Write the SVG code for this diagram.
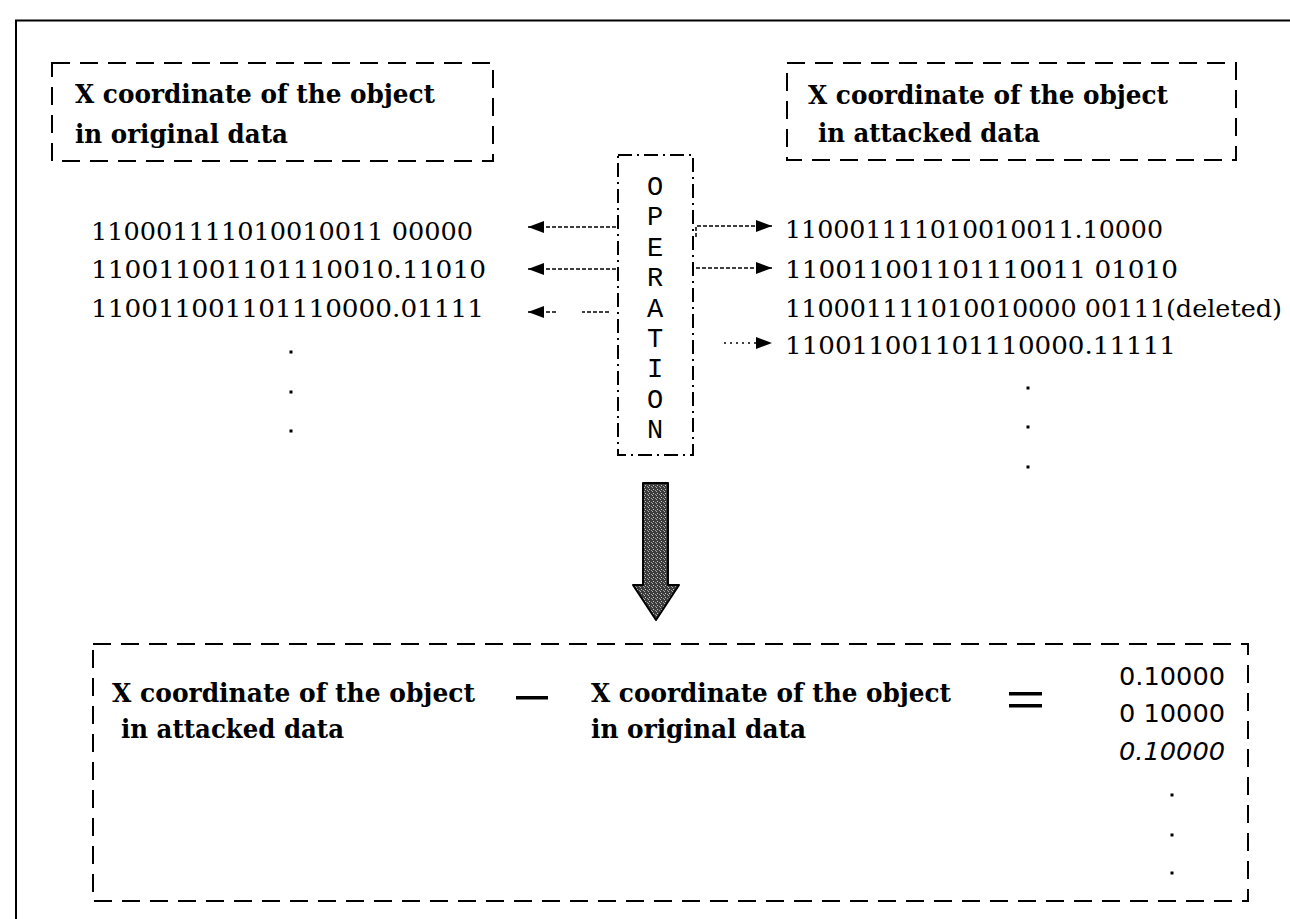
<svg xmlns="http://www.w3.org/2000/svg" width="1290" height="919" viewBox="0 0 1290 919">
<style>
.frame{fill:none;stroke:#000;stroke-width:2}
.dbox{fill:none;stroke:#000;stroke-width:2;stroke-dasharray:18 10}
.opbox{fill:none;stroke:#000;stroke-width:2;stroke-dasharray:14 5 2 5}
.hdr{font-family:"DejaVu Serif","Liberation Serif",serif;font-weight:bold;font-size:26px;fill:#000}
.num{font-family:"DejaVu Serif","Liberation Serif",serif;font-size:25px;fill:#000}
.res{font-family:"DejaVu Sans","Liberation Sans",sans-serif;font-size:25px;fill:#000}
.op{font-family:"Liberation Mono","DejaVu Sans Mono",monospace;font-size:27px;fill:#000;text-anchor:middle}
.conn{fill:none;stroke:#000;stroke-width:1.5;stroke-dasharray:4 2}
.dot{fill:#000}
</style>
<defs>
<marker id="ah" viewBox="0 0 16 12" refX="16" refY="6" markerWidth="16" markerHeight="12" markerUnits="userSpaceOnUse" orient="auto">
<path d="M0,0 L16,6 L0,12 z" fill="#000"/>
</marker>
<pattern id="stip" width="4" height="4" patternUnits="userSpaceOnUse">
<rect width="4" height="4" fill="#3c3c3c"/>
<rect x="1" y="1" width="1" height="1" fill="#c8c8c8"/>
<rect x="3" y="2" width="1" height="1" fill="#9a9a9a"/>
<rect x="0" y="3" width="1" height="1" fill="#b0b0b0"/>
</pattern>
</defs>
<rect width="1290" height="919" fill="#fff"/>
<path class="frame" d="M16,919 V20.5 H1290"/>

<g id="orig-box">
<rect class="dbox" x="52" y="63" width="441" height="98"/>
<text class="hdr" x="75" y="103" textLength="360" lengthAdjust="spacingAndGlyphs">X coordinate of the object</text>
<text class="hdr" x="75" y="143" textLength="213" lengthAdjust="spacingAndGlyphs">in original data</text>
</g>

<g id="attacked-box">
<rect class="dbox" x="787" y="63" width="449" height="97"/>
<text class="hdr" x="808" y="104" textLength="360" lengthAdjust="spacingAndGlyphs">X coordinate of the object</text>
<text class="hdr" x="818" y="142" textLength="222" lengthAdjust="spacingAndGlyphs">in attacked data</text>
</g>

<g id="orig-values">
<text class="num" x="91" y="240" textLength="382" lengthAdjust="spacingAndGlyphs">110001111010010011 00000</text>
<text class="num" x="91" y="278" textLength="395" lengthAdjust="spacingAndGlyphs">110011001101110010.11010</text>
<text class="num" x="91" y="317" textLength="393" lengthAdjust="spacingAndGlyphs">110011001101110000.01111</text>
<rect class="dot" x="289.5" y="350.5" width="3" height="3"/>
<rect class="dot" x="289.5" y="390.5" width="3" height="3"/>
<rect class="dot" x="289.5" y="429.5" width="3" height="3"/>
</g>

<g id="operation">
<rect class="opbox" x="618" y="155" width="75" height="300"/>
<text class="op" x="655" y="195">O</text>
<text class="op" x="655" y="225">P</text>
<text class="op" x="655" y="256">E</text>
<text class="op" x="655" y="286">R</text>
<text class="op" x="655" y="317">A</text>
<text class="op" x="655" y="347">T</text>
<text class="op" x="655" y="377">I</text>
<text class="op" x="655" y="408">O</text>
<text class="op" x="655" y="438">N</text>
</g>

<g id="attacked-values">
<text class="num" x="785" y="238" textLength="378" lengthAdjust="spacingAndGlyphs">110001111010010011.10000</text>
<text class="num" x="785" y="278" textLength="393" lengthAdjust="spacingAndGlyphs">110011001101110011 01010</text>
<text class="num" x="785" y="317" textLength="497" lengthAdjust="spacingAndGlyphs">110001111010010000 00111(deleted)</text>
<text class="num" x="785" y="354" textLength="391" lengthAdjust="spacingAndGlyphs">110011001101110000.11111</text>
<rect class="dot" x="1026.5" y="386.5" width="3" height="3"/>
<rect class="dot" x="1026.5" y="425.5" width="3" height="3"/>
<rect class="dot" x="1026.5" y="465.5" width="3" height="3"/>
</g>

<g id="connectors">
<path class="conn" d="M616,227 H528" marker-end="url(#ah)"/>
<path class="conn" d="M616,269 H528" marker-end="url(#ah)"/>
<path class="conn" d="M609,312 H582"/>
<path class="conn" d="M556,312 H528" marker-end="url(#ah)"/>
<path class="conn" d="M696,237 V226 H772" marker-end="url(#ah)"/>
<path class="conn" d="M696,268 H772" marker-end="url(#ah)"/>
<path class="conn" style="stroke-dasharray:2 4" d="M724,343 H772" marker-end="url(#ah)"/>
<polygon points="643,483 668,483 668,585 679,585 656,620 633,585 643,585" fill="url(#stip)" stroke="#000" stroke-width="2" stroke-linejoin="round"/>
</g>

<g id="difference-box">
<rect class="dbox" x="93" y="644" width="1155" height="257"/>
<text class="hdr" x="112" y="702" textLength="363" lengthAdjust="spacingAndGlyphs">X coordinate of the object</text>
<text class="hdr" x="121" y="738" textLength="223" lengthAdjust="spacingAndGlyphs">in attacked data</text>
<rect x="516" y="696" width="32" height="3.5" fill="#000"/>
<text class="hdr" x="591" y="702" textLength="360" lengthAdjust="spacingAndGlyphs">X coordinate of the object</text>
<text class="hdr" x="591" y="738" textLength="215" lengthAdjust="spacingAndGlyphs">in original data</text>
<rect x="1009" y="692" width="33" height="3.5" fill="#000"/>
<rect x="1009" y="704" width="33" height="3.5" fill="#000"/>
<text class="res" x="1119" y="685" textLength="106" lengthAdjust="spacingAndGlyphs">0.10000</text>
<text class="res" x="1119" y="722" textLength="106" lengthAdjust="spacingAndGlyphs">0 10000</text>
<text class="res" x="1119" y="760" textLength="106" lengthAdjust="spacingAndGlyphs" font-style="italic">0.10000</text>
<rect class="dot" x="1170.5" y="793.5" width="3" height="3"/>
<rect class="dot" x="1170.5" y="833.5" width="3" height="3"/>
<rect class="dot" x="1170.5" y="871.5" width="3" height="3"/>
</g>
</svg>
